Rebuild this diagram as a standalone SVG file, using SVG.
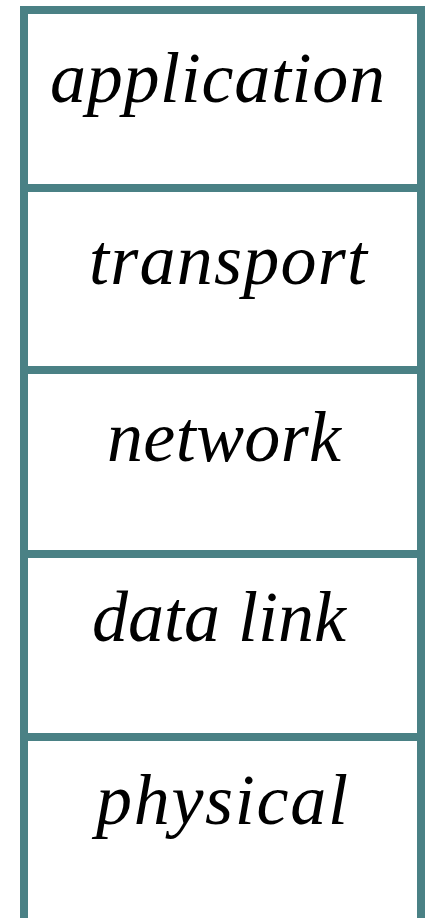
<svg xmlns="http://www.w3.org/2000/svg" width="427" height="918" viewBox="0 0 427 918">
<style>
.frame{fill:none;stroke:#4a8185;stroke-width:8}
.lbl{font-family:"Liberation Serif","Times New Roman",serif;font-style:italic;font-size:72px;fill:#000}
</style>
<rect width="427" height="918" fill="#fff"/>
<g id="connectors"></g>
<g id="frame">
<path class="frame" d="M24,918 V10 H421 V918"/>
</g>
<g id="application">
<text class="lbl" x="50" y="102" textLength="335" lengthAdjust="spacing">application</text>
</g>
<g id="transport">
<line class="frame" x1="20" y1="188" x2="425" y2="188"/>
<text class="lbl" x="89" y="284" textLength="278" lengthAdjust="spacing">transport</text>
</g>
<g id="network">
<line class="frame" x1="20" y1="370" x2="425" y2="370"/>
<text class="lbl" x="107" y="461" textLength="234" lengthAdjust="spacing">network</text>
</g>
<g id="datalink">
<line class="frame" x1="20" y1="554" x2="425" y2="554"/>
<text class="lbl" x="92" y="641" textLength="254" lengthAdjust="spacing">data link</text>
</g>
<g id="physical">
<line class="frame" x1="20" y1="737" x2="425" y2="737"/>
<text class="lbl" x="96" y="824" textLength="252" lengthAdjust="spacing">physical</text>
</g>
</svg>
